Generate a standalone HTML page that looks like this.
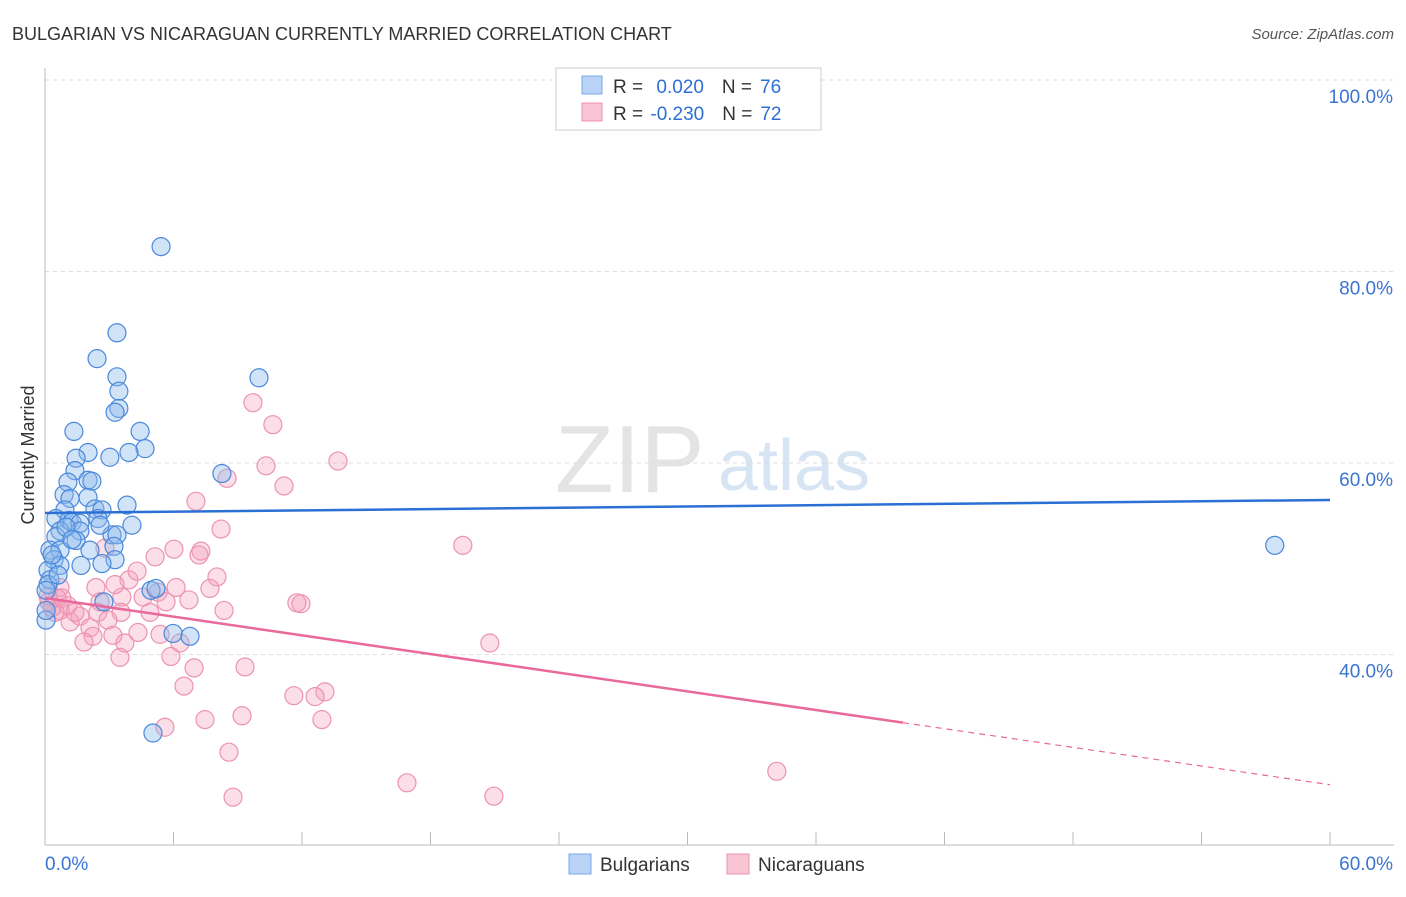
<!DOCTYPE html>
<html><head><meta charset="utf-8"><style>
body{margin:0;background:#fff;font-family:"Liberation Sans",sans-serif;}
svg text{font-family:"Liberation Sans",sans-serif;}
</style></head><body>
<svg id="chart" width="1406" height="892" viewBox="0 0 1406 892" xmlns="http://www.w3.org/2000/svg">
<text x="12" y="40" font-size="18" fill="#333">BULGARIAN VS NICARAGUAN CURRENTLY MARRIED CORRELATION CHART</text>
<text x="1394" y="39" font-size="15" fill="#555" font-style="italic" text-anchor="end">Source: ZipAtlas.com</text>
<text x="34" y="455" font-size="18" fill="#333" text-anchor="middle" transform="rotate(-90 34 455)">Currently Married</text>
<text x="555" y="492" font-size="96" fill="#e4e4e4" font-family="Liberation Serif">ZIP</text>
<text x="718" y="490" font-size="72" fill="#d6e4f4">atlas</text>
<g id="grid"></g>
<g id="axes"></g>
<g id="pinkpts"></g>
<g id="bluepts"></g>
<g id="trends"></g>
<g>
<rect x="556" y="68" width="265" height="62" fill="#fff" stroke="#ccc"/>
<rect x="582" y="76" width="20" height="18" fill="#b8d3f5" stroke="#7aa8e6"/>
<rect x="582" y="103" width="20" height="18" fill="#f9c4d4" stroke="#ec93b0"/>
<text x="613" y="93" font-size="19" fill="#333">R = <tspan fill="#2d6fd6" dx="8">0.020</tspan><tspan dx="18">N =</tspan><tspan fill="#2d6fd6" dx="8">76</tspan></text>
<text x="613" y="120" font-size="19" fill="#333">R = <tspan fill="#2d6fd6" dx="2">-0.230</tspan><tspan dx="18">N =</tspan><tspan fill="#2d6fd6" dx="8">72</tspan></text>
</g>
<g>
<rect x="569" y="854" width="22" height="20" fill="#b8d3f5" stroke="#7aa8e6"/>
<text x="600" y="871" font-size="19" fill="#333">Bulgarians</text>
<rect x="727" y="854" width="22" height="20" fill="#f9c4d4" stroke="#ec93b0"/>
<text x="758" y="871" font-size="19" fill="#333">Nicaraguans</text>
</g>
</svg>
<script>
const yTicks=[100,80,60,40];
const yTickLabels=["100.0%","80.0%","60.0%","40.0%"];
const xEnds=["0.0%","60.0%"];
const blueX=[5.42,3.36,2.43,3.36,9.99,3.45,3.45,3.27,1.35,4.44,2.01,4.67,3.92,3.03,1.45,1.40,8.26,1.07,2.01,2.19,0.89,1.17,2.01,3.83,2.33,2.66,0.93,0.51,1.12,1.26,2.47,1.63,4.06,0.70,1.63,3.13,3.36,0.51,1.45,3.22,2.10,0.23,0.70,0.42,3.27,2.66,1.68,0.70,0.14,0.23,0.14,0.05,2.75,4.95,5.18,5.98,6.77,5.04,57.42,0.05,0.05,0.61,0.98,1.26,0.33,2.57];
const blueY=[82.6,73.6,70.9,69.0,68.9,67.5,65.7,65.3,63.3,63.3,61.1,61.5,61.1,60.6,60.5,59.2,58.9,58.0,58.2,58.1,56.7,56.3,56.4,55.6,55.2,55.1,55.1,54.2,54.0,53.8,54.2,53.7,53.5,52.9,52.9,52.5,52.5,52.3,51.9,51.3,50.9,50.9,50.9,49.9,49.9,49.5,49.3,49.3,48.8,47.8,47.3,46.7,45.5,46.7,46.9,42.2,41.9,31.8,51.4,43.6,44.6,48.3,53.3,52.0,50.4,53.5];
const pinkX=[9.71,10.64,13.68,10.32,8.50,11.16,7.05,8.22,19.51,6.02,5.14,7.28,7.19,8.03,3.92,4.30,6.12,5.28,7.70,2.38,0.70,11.95,11.76,4.58,3.59,6.72,8.36,5.65,3.55,2.47,1.07,0.70,0.47,1.63,1.17,2.94,2.10,3.17,4.34,5.37,2.24,1.82,3.73,6.30,20.77,0.56,0.19,5.88,3.50,6.96,9.34,6.49,11.62,13.07,12.61,7.47,9.20,12.93,5.60,8.59,8.78,16.90,20.96,34.17,0.14,0.33,1.40,2.57,4.90,3.27,2.80,0.79];
const pinkY=[66.3,64.0,60.2,59.7,58.4,57.6,56.0,53.1,51.4,51.0,50.2,50.8,50.4,48.1,47.8,48.7,47.0,46.5,46.9,47.0,47.0,45.3,45.4,46.0,46.0,45.7,44.6,45.5,44.4,44.4,45.1,44.6,44.4,44.0,43.4,43.6,42.8,42.0,42.3,42.1,41.9,41.3,41.2,41.2,41.2,45.9,45.5,39.8,39.7,38.6,38.7,36.7,35.7,36.1,35.6,33.2,33.6,33.2,32.4,29.8,25.1,26.6,25.2,27.8,46.1,44.9,44.4,45.5,44.4,47.3,51.1,45.9];
const blueTrend=[54.78,56.14];
const pinkTrend=[45.9,26.4];
const pinkSolidEnd=40.06;
const NS="http://www.w3.org/2000/svg";
const X=v=>45+v*1285/60;
const Y=v=>80+(100-v)*9.575;
function mk(tag,attrs,parent){const e=document.createElementNS(NS,tag);for(const k in attrs)e.setAttribute(k,attrs[k]);document.getElementById(parent).appendChild(e);return e;}
yTicks.forEach((t,i)=>{
 const l=mk('line',{x1:45,x2:1394,y1:Y(t),y2:Y(t),stroke:'#ddd','stroke-dasharray':'4,4'},'grid');
 
 
 const tx=mk('text',{x:1393,y:Y(t)+23,'font-size':19,fill:'#3b74d3','text-anchor':'end'},'grid');
 tx.textContent=yTickLabels[i];
 
 
});
const ax=mk('line',{x1:45,x2:45,y1:68,y2:845,stroke:'#bbb'},'axes');


const bx=mk('line',{x1:45,x2:1394,y1:845,y2:845,stroke:'#bbb'},'axes');


for(let i=0;i<=10;i++){
 const t=mk('line',{x1:X(i*6),x2:X(i*6),y1:832,y2:845,stroke:'#bbb'},'axes');
 
 
}
const xl0=mk('text',{x:45,y:870,'font-size':19,fill:'#3b74d3'},'axes');xl0.textContent=xEnds[0];


const xl1=mk('text',{x:1393,y:870,'font-size':19,fill:'#3b74d3','text-anchor':'end'},'axes');xl1.textContent=xEnds[1];


pinkX.forEach((v,i)=>{
 const c=mk('circle',{cx:X(v),cy:Y(pinkY[i]),r:9,fill:'rgba(244,160,188,0.35)',stroke:'#ec93b0','stroke-width':1.2},'pinkpts');
 
 
});
blueX.forEach((v,i)=>{
 const c=mk('circle',{cx:X(v),cy:Y(blueY[i]),r:9,fill:'rgba(140,184,236,0.4)',stroke:'#4a88dc','stroke-width':1.2},'bluepts');
 
 
});
const bl=mk('line',{x1:X(0),y1:Y(blueTrend[0]),x2:X(60),y2:Y(blueTrend[1]),stroke:'#2a6fd4','stroke-width':2.5},'trends');


const pf=v=>pinkTrend[0]+(pinkTrend[1]-pinkTrend[0])*v/60;
const pl=mk('line',{x1:X(0),y1:Y(pf(0)),x2:X(pinkSolidEnd),y2:Y(pf(pinkSolidEnd)),stroke:'#e8699a','stroke-width':2.5},'trends');


const pd=mk('line',{x1:X(pinkSolidEnd),y1:Y(pf(pinkSolidEnd)),x2:X(60),y2:Y(pf(60)),stroke:'#e8699a','stroke-width':1.2,'stroke-dasharray':'6,5'},'trends');


</script>
</body></html>
